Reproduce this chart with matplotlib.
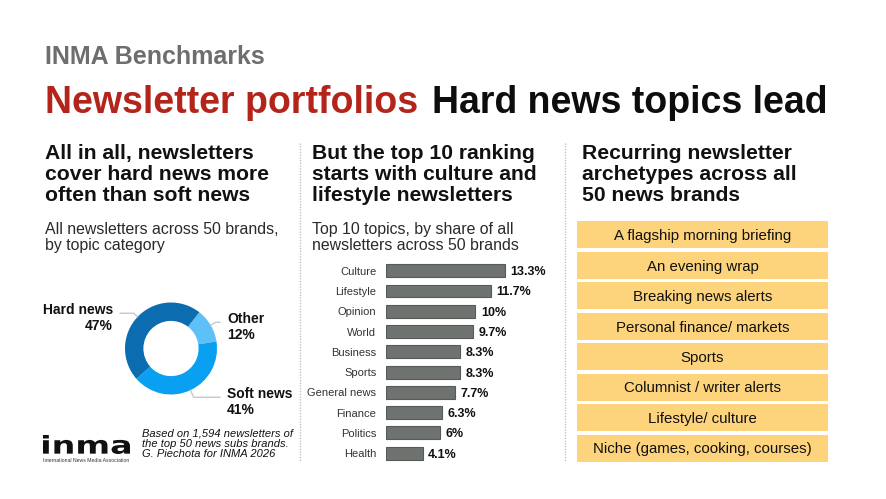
import matplotlib.pyplot as plt
import numpy as np
from matplotlib.textpath import TextPath
from matplotlib.patches import PathPatch
from matplotlib.font_manager import FontProperties
from matplotlib.transforms import Affine2D

W, H = 887, 499

plt.rcParams["font.family"] = ["Liberation Sans", "DejaVu Sans"]

# ---- data ----
page_label = "INMA Benchmarks"
title_red = "Newsletter portfolios"
title_black = "Hard news topics lead"

col_heads = [
    ["All in all, newsletters", "cover hard news more", "often than soft news"],
    ["But the top 10 ranking", "starts with culture and", "lifestyle newsletters"],
    ["Recurring newsletter", "archetypes across all", "50 news brands"],
]
col_subs = [
    ["All newsletters across 50 brands,", "by topic category"],
    ["Top 10 topics, by share of all", "newsletters across 50 brands"],
]

donut_labels = ["Other", "Soft news", "Hard news"]
donut_shares = [12, 41, 47]
donut_colors = ["#5dc0f8", "#0aa0f2", "#0b6db0"]

topics = ["Culture", "Lifestyle", "Opinion", "World", "Business", "Sports",
          "General news", "Finance", "Politics", "Health"]
topic_shares = [13.3, 11.7, 10, 9.7, 8.3, 8.3, 7.7, 6.3, 6, 4.1]

archetypes = [
    "A flagship morning briefing",
    "An evening wrap",
    "Breaking news alerts",
    "Personal finance/ markets",
    "Sports",
    "Columnist / writer alerts",
    "Lifestyle/ culture",
    "Niche (games, cooking, courses)",
]

source_lines = ["Based on 1,594 newsletters of",
                "the top 50 news subs brands.",
                "G. Piechota for INMA 2026"]


def px_box(x0, y0, x1, y1):
    return [x0 / W, 1 - y1 / H, (x1 - x0) / W, (y1 - y0) / H]


fig = plt.figure(figsize=(W / 100, H / 100), dpi=100)
bg = fig.add_axes([0, 0, 1, 1])
bg.set_xlim(0, W)
bg.set_ylim(H, 0)
bg.axis("off")

# titles
bg.text(45, 64, page_label, fontsize=18, fontweight="bold", color="#6e6e6e")
bg.text(45, 113, title_red, fontsize=27, fontweight="bold", color="#b3241b")
bg.text(432, 113, title_black, fontsize=27, fontweight="bold", color="#0d0d0d")

# column headers
col_x = [45, 312, 582]
for x, lines in zip(col_x, col_heads):
    for i, line in enumerate(lines):
        bg.text(x, 159 + i * 21, line, fontsize=15.2, fontweight="bold", color="#111111")
for x, lines in zip(col_x, col_subs):
    for i, line in enumerate(lines):
        bg.text(x, 234 + i * 16, line, fontsize=11.4, color="#2a2a2a")

# dotted separators
for sx in [300, 565]:
    bg.plot([sx, sx], [143, 462], ls=(0, (1, 1.2)), color="#b8b8b8", lw=0.9)

# ---- donut ----
dax = fig.add_axes(px_box(125, 302.5, 217, 394.5))
wedges, _ = dax.pie(donut_shares, colors=donut_colors, startangle=52,
                    counterclock=False, radius=1,
                    wedgeprops=dict(width=0.4, edgecolor="none"))
dax.set_xlim(-1, 1)
dax.set_ylim(-1, 1)
dax.set_aspect("equal")

label_pos = {"Hard news": (113, 318, "right"),
             "Other": (227, 327, "left"),
             "Soft news": (227, 402, "left")}
for w, name, share in zip(wedges, donut_labels, donut_shares):
    mid = np.deg2rad((w.theta1 + w.theta2) / 2)
    tx, ty, ha = label_pos[name]
    dax.annotate(f"{name}\n{share}%", xy=(np.cos(mid), np.sin(mid)),
                 xytext=(tx, ty), textcoords=bg.transData,
                 ha=ha, va="center", fontsize=10, fontweight="bold",
                 color="#111111", linespacing=1.15, annotation_clip=False,
                 arrowprops=dict(arrowstyle="-", color="#c8c8c8", lw=1,
                                 shrinkA=3, shrinkB=0,
                                 relpos=(1 if ha == "right" else 0, 0.66),
                                 connectionstyle=f"angle,angleA=0,angleB={np.rad2deg(mid):.1f},rad=0"))

# footer: logo + source
logo = TextPath((0, 0), "inma", size=1, prop=FontProperties(family="DejaVu Sans", weight="bold"))
ext = logo.get_extents()
sx = (130 - 43) / ext.width
sy = (454 - 435) / ext.height
tr = Affine2D().translate(-ext.x0, -ext.y0).scale(sx, -sy).translate(43, 454)
bg.add_patch(PathPatch(tr.transform_path(logo), color="#111111", lw=0))
bg.text(43, 461.5, "International News Media Association", fontsize=3.7, color="#333333")
for i, line in enumerate(source_lines):
    bg.text(142, 437 + i * 10.2, line, fontsize=8, style="italic", color="#111111")

# ---- topic bars ----
bax = fig.add_axes(px_box(386, 260.6, 560, 463.2))
ypos = np.arange(len(topics))
bars = bax.barh(ypos, topic_shares, height=0.64, color="#6f7370",
                edgecolor="#565a58", linewidth=0.8)
bax.set_xlim(0, 19.45)
bax.set_ylim(len(topics) - 0.5, -0.5)
bax.set_yticks(ypos, topics)
bax.tick_params(axis="y", length=0, pad=7, labelsize=8, labelcolor="#333333")
for lbl in bax.get_yticklabels():
    lbl.set_verticalalignment("center_baseline")
bax.set_xticks([])
for s in bax.spines.values():
    s.set_visible(False)
bax.patch.set_visible(False)
for y, v in zip(ypos, topic_shares):
    bax.annotate(f"{v:g}%", (v, y), xytext=(4, 0), textcoords="offset points",
                 ha="left", va="center_baseline", fontsize=9,
                 fontweight="bold", color="#111111")

# ---- archetype boxes ----
aax = fig.add_axes(px_box(577, 219.25, 828, 463.25))
apos = np.arange(len(archetypes))
aax.barh(apos, [1] * len(archetypes), height=27 / 30.5, left=0, color="#fdd47c")
aax.set_xlim(0, 1)
aax.set_ylim(len(archetypes) - 0.5, -0.5)
aax.axis("off")
for y, label in zip(apos, archetypes):
    aax.text(0.5, y, label, ha="center", va="center_baseline", fontsize=10.8, color="#111111")

fig.savefig("out.png", dpi=100)
